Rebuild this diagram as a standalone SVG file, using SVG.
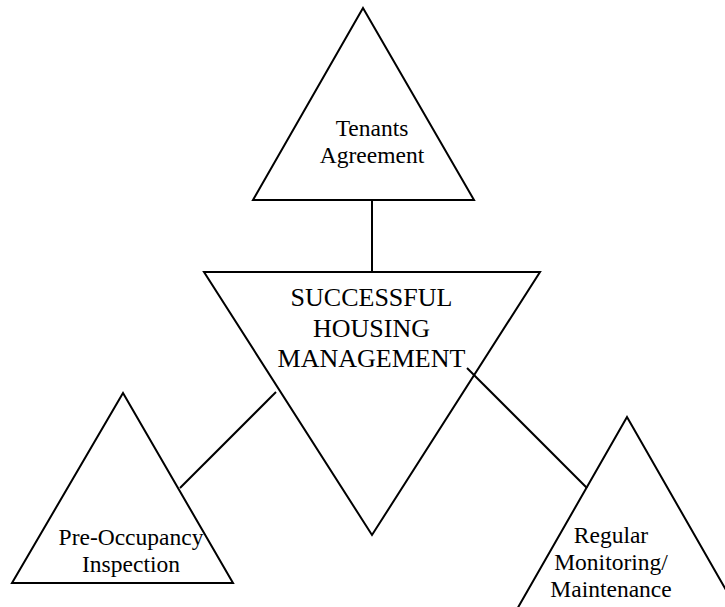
<svg xmlns="http://www.w3.org/2000/svg" width="725" height="607" viewBox="0 0 725 607">
  <style>
    .shape { fill: none; stroke: #000; stroke-width: 2; stroke-linejoin: miter; }
    .link { stroke: #000; stroke-width: 2; fill: none; }
    .label { font-family: "Liberation Serif", "Times New Roman", serif; font-size: 23.5px; fill: #000; text-anchor: middle; }
    .core { font-size: 26px; }
  </style>
  <rect width="725" height="607" fill="#fff"/>
  <g id="connectors">
    <line class="link" x1="372" y1="200" x2="372" y2="272"/>
    <line class="link" x1="276" y1="392" x2="180" y2="488"/>
    <line class="link" x1="467" y1="368" x2="587" y2="488"/>
  </g>
  <g id="tenants-agreement">
    <polygon class="shape" points="363,8 253,200 474,200"/>
    <text class="label" x="372" y="136">Tenants</text>
    <text class="label" x="372" y="163">Agreement</text>
  </g>
  <g id="housing-management">
    <polygon class="shape" points="204,272 540,272 372,535"/>
    <text class="label core" x="371.5" y="306">SUCCESSFUL</text>
    <text class="label core" x="371.5" y="336.5">HOUSING</text>
    <text class="label core" x="371.5" y="367">MANAGEMENT</text>
  </g>
  <g id="pre-occupancy">
    <polygon class="shape" points="123,393 12,583 233,583"/>
    <text class="label" x="131" y="545">Pre-Occupancy</text>
    <text class="label" x="131" y="572">Inspection</text>
  </g>
  <g id="monitoring-maintenance">
    <polygon class="shape" points="627,417 516,611 738,611"/>
    <text class="label" x="611" y="543">Regular</text>
    <text class="label" x="611" y="570">Monitoring/</text>
    <text class="label" x="611" y="597">Maintenance</text>
  </g>
</svg>
